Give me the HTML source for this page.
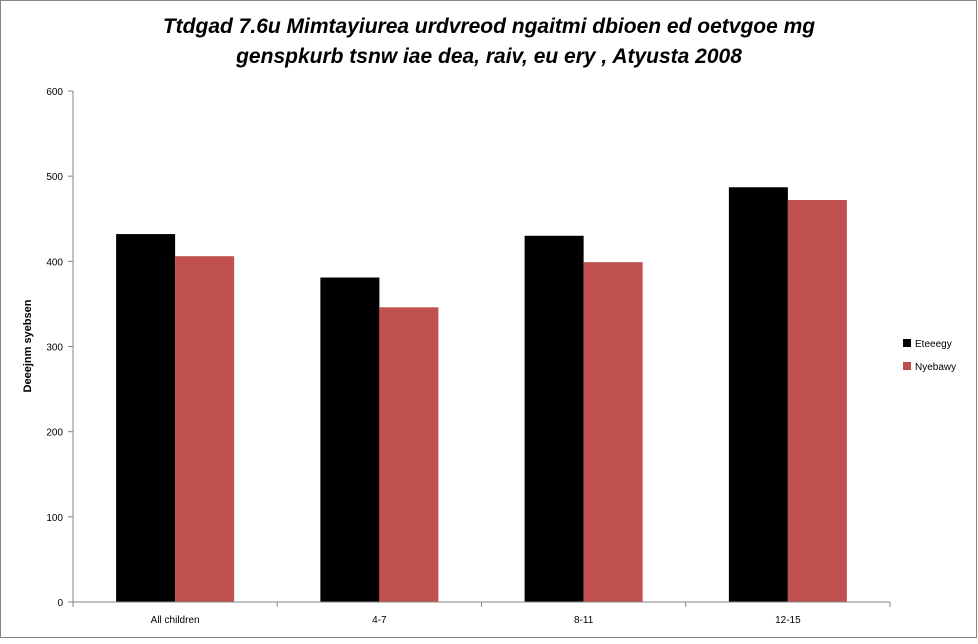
<!DOCTYPE html>
<html><head><meta charset="utf-8"><style>
html,body{margin:0;padding:0;background:#fff;}
body{width:978px;height:639px;overflow:hidden;font-family:"Liberation Sans",sans-serif;}
</style></head><body>
<svg id="chart" width="978" height="639" xmlns="http://www.w3.org/2000/svg" font-family="Liberation Sans, sans-serif">
<rect x="0.5" y="0.5" width="976" height="637" fill="#fff" stroke="#868686"/>
<text x="489" y="33" text-anchor="middle" font-size="21" font-weight="bold" font-style="italic">Ttdgad 7.6u Mimtayiurea urdvreod ngaitmi dbioen ed oetvgoe mg</text>
<text x="489" y="63" text-anchor="middle" font-size="21" font-weight="bold" font-style="italic">genspkurb tsnw iae dea, raiv, eu ery , Atyusta 2008</text>
<text transform="translate(31,346) rotate(-90)" text-anchor="middle" font-size="11" font-weight="bold">Deeejnm syebsen</text>
<g id="plot"></g>
<g>
<rect x="903" y="339" width="8" height="8" fill="#000"/>
<text x="915" y="347" font-size="10">Eteeegy</text>
<rect x="903" y="362" width="8" height="8" fill="#c0504d"/>
<text x="915" y="370" font-size="10">Nyebawy</text>
</g>
</svg>
<script>
const categories=["All children","4-7","8-11","12-15"];
const seriesA=[432,381,430,487];
const seriesB=[406,346,399,472];
const yTicks=[0,100,200,300,400,500,600];
const NS="http://www.w3.org/2000/svg";
const X0=73,X1=890,Y0=602,Y1=91,YMAX=600;
const y=v=>Y0-(v/YMAX)*(Y0-Y1);
const bw=(X1-X0)/categories.length;
const g=document.getElementById('plot');
function el(t,a){const e=document.createElementNS(NS,t);for(const k in a)e.setAttribute(k,a[k]);g.appendChild(e);return e;}
let ax=el('line',{x1:X0,y1:Y1,x2:X0,y2:Y0,stroke:'#868686'});


yTicks.forEach(t=>{
 let l=el('line',{x1:X0-5,y1:y(t),x2:X0,y2:y(t),stroke:'#868686'});
 
 
 let tx=el('text',{x:X0-10,y:y(t)+4,'text-anchor':'end','font-size':'10'});
 tx.textContent=t;
 
 
});
categories.forEach((c,i)=>{
 const cx=X0+bw*(i+0.5),w=59;
 let a=el('rect',{x:cx-w,y:y(seriesA[i]),width:w,height:Y0-y(seriesA[i]),fill:'#000'});
 
 
 let b=el('rect',{x:cx,y:y(seriesB[i]),width:w,height:Y0-y(seriesB[i]),fill:'#c0504d'});
 
 
 let t=el('text',{x:cx,y:623,'text-anchor':'middle','font-size':'10'});
 t.textContent=c;
 
 
});
for(let i=0;i<=categories.length;i++){
 let l=el('line',{x1:X0+bw*i,y1:Y0,x2:X0+bw*i,y2:Y0+5,stroke:'#868686'});
 
 
}
let xa=el('line',{x1:X0,y1:Y0,x2:X1,y2:Y0,stroke:'#868686'});


</script>
</body></html>
